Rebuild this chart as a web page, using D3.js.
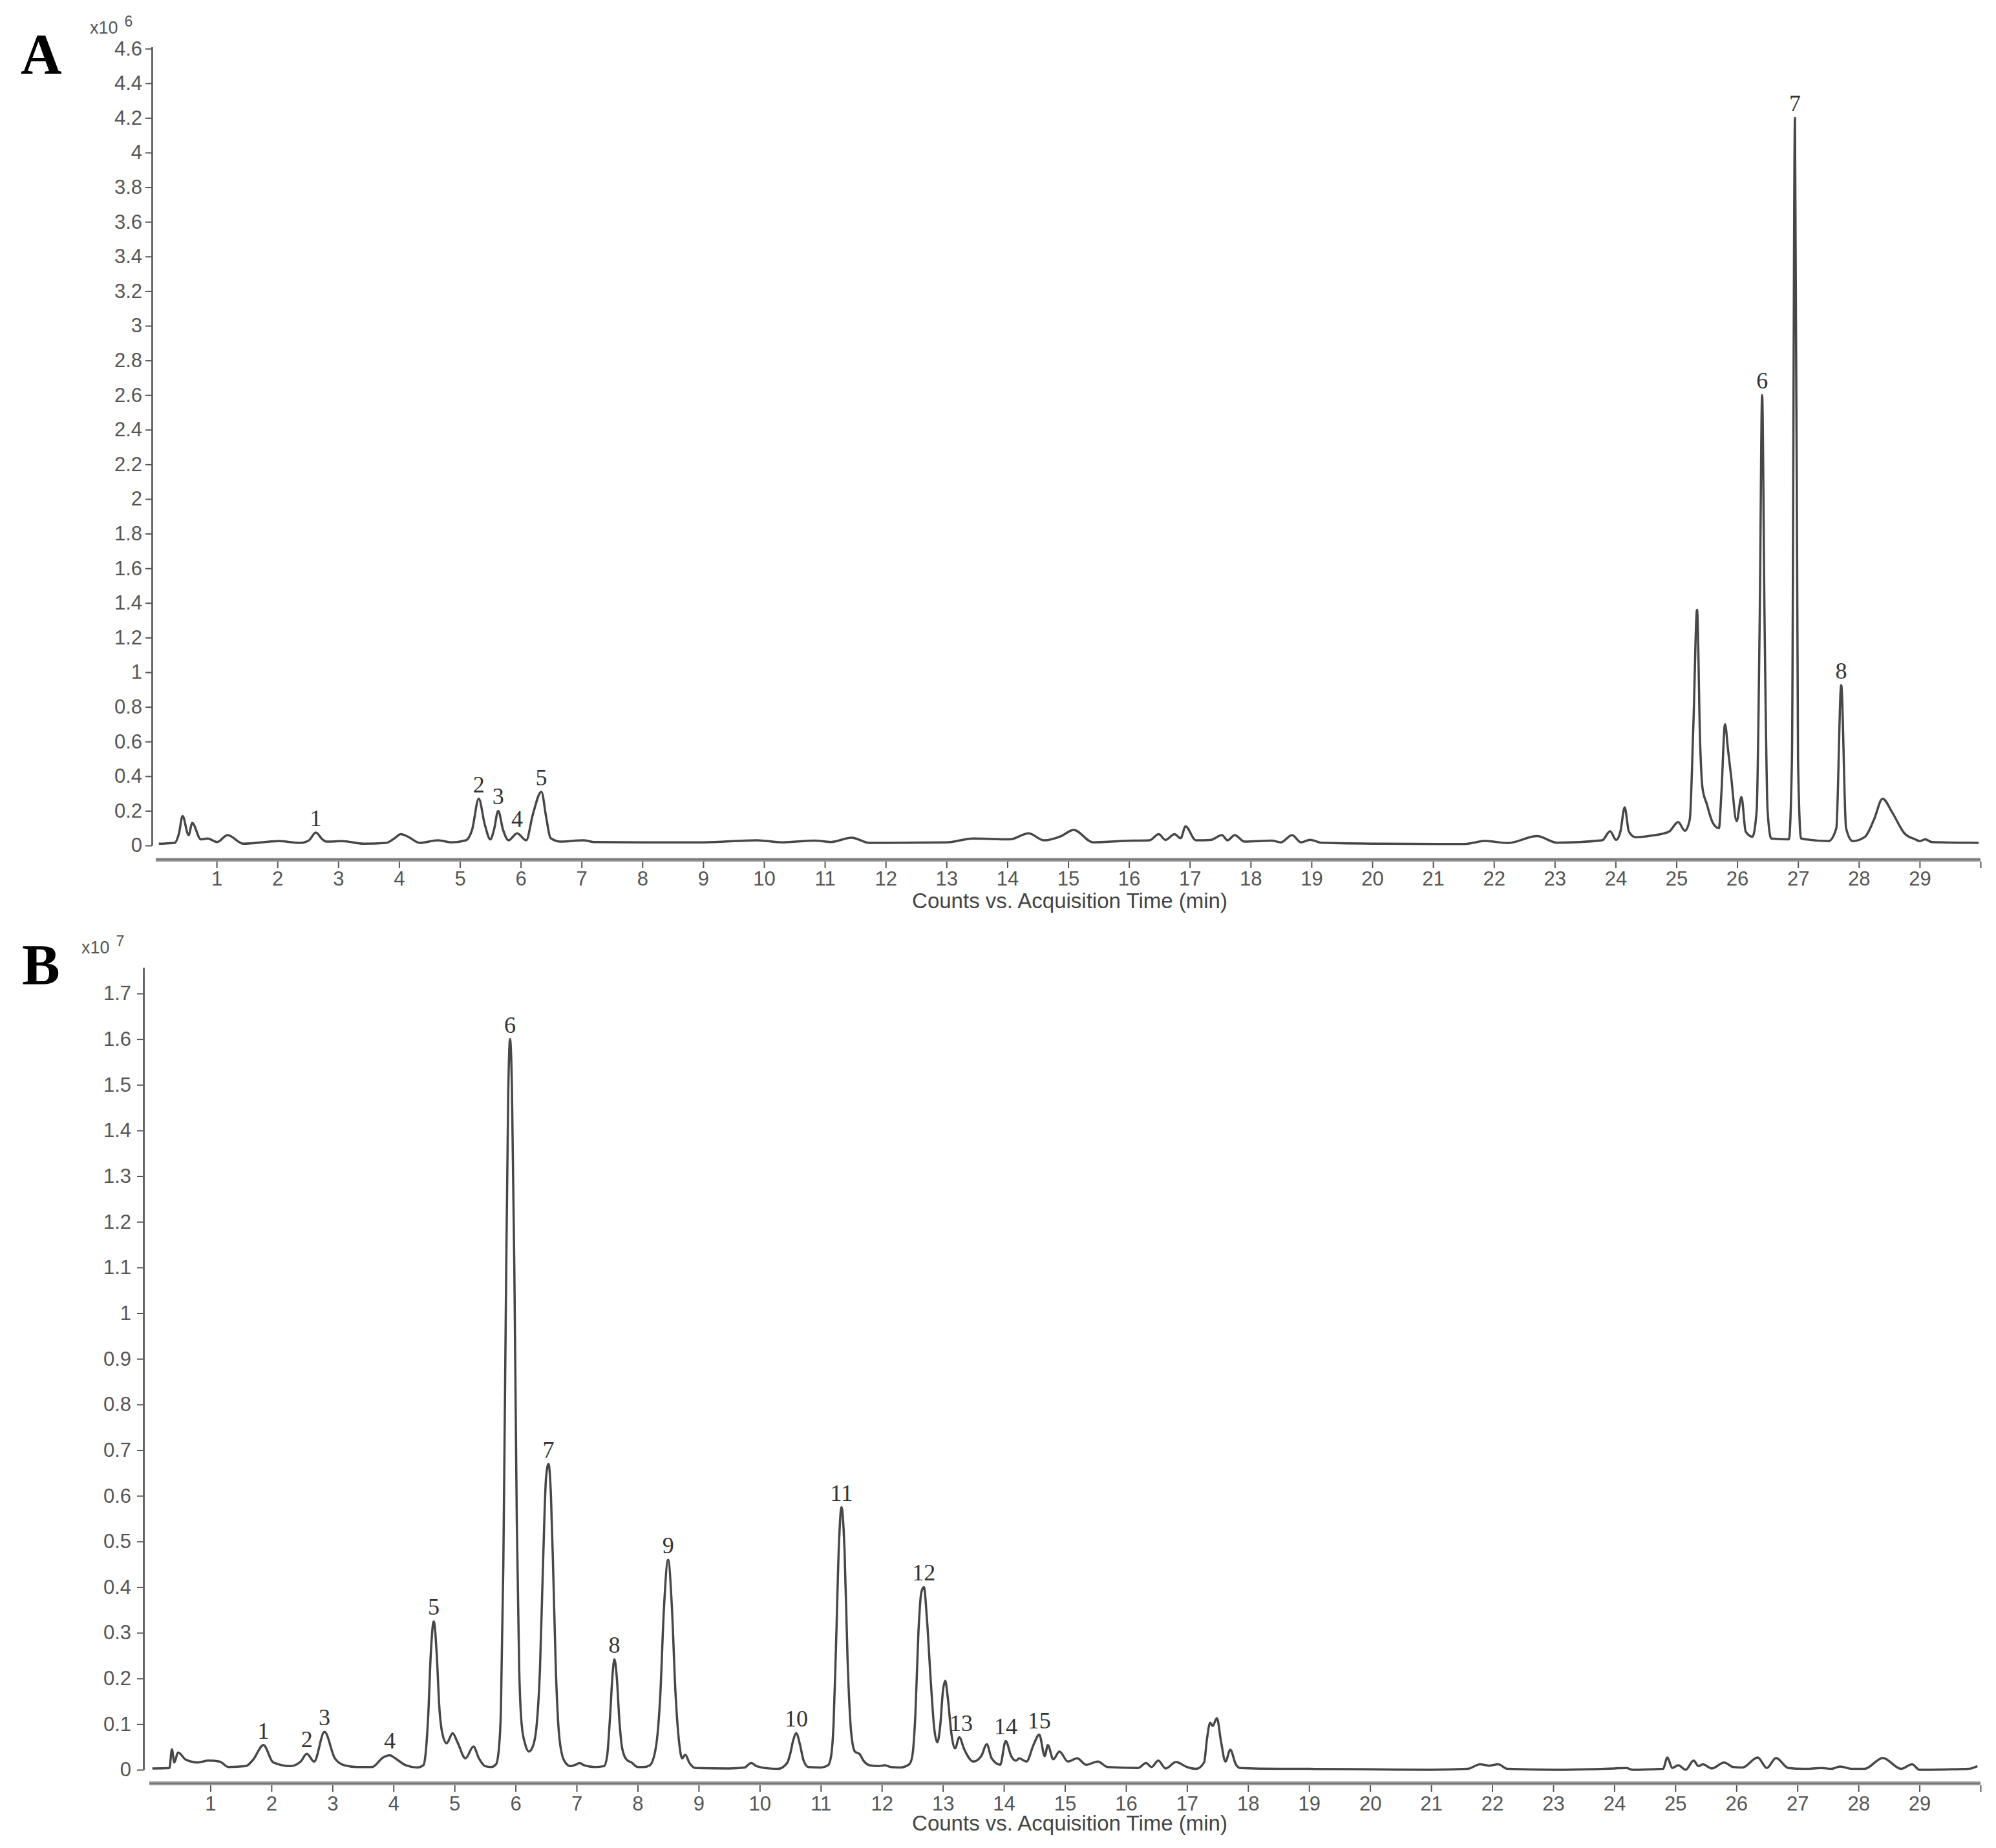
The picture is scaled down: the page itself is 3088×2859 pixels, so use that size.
<!DOCTYPE html>
<html>
<head>
<meta charset="utf-8">
<script src="https://cdn.jsdelivr.net/npm/d3@7/dist/d3.min.js"></script>
<style>
  body { margin: 0; background: #fff; }
  svg text { font-family: "Liberation Sans", Arial, sans-serif; }
  .tick text { fill: #555; font-size: 31px; }
  .tick line { stroke: #555; stroke-width: 2; }
  .axis-title { fill: #444; font-size: 33px; }
  .scale-note { fill: #555; }
  .peak-label { font-family: "Liberation Serif", "Times New Roman", serif; font-size: 36px; fill: #333; }
  .panel-letter { font-family: "Liberation Serif", "Times New Roman", serif; font-weight: bold; font-size: 88px; fill: #000; }
  .trace { fill: none; stroke: #474747; stroke-width: 3.5; stroke-linejoin: round; }
</style>
</head>
<body>
<svg id="fig" width="3088" height="2859"></svg>
<script>
// --- Chromatograms A (x10^6 counts) and B (x10^7 counts) vs. acquisition time (min) ---

// [time (min), counts]
const traceA = [
  [0.05,0.01],[0.31,0.015],[0.38,0.067],[0.44,0.17],[0.54,0.06],[0.6,0.13],[0.74,0.035],[0.85,0.04],
  [1.01,0.02],[1.18,0.06],[1.44,0.01],[2.02,0.025],[2.38,0.015],[2.52,0.03],[2.63,0.075],[2.74,0.035],
  [2.81,0.022],[3.06,0.025],[3.42,0.01],[3.79,0.015],[3.92,0.04],[4.03,0.065],[4.15,0.05],[4.34,0.015],
  [4.64,0.03],[4.86,0.018],[5.1,0.03],[5.2,0.09],[5.31,0.27],[5.41,0.12],[5.5,0.035],[5.56,0.09],
  [5.63,0.2],[5.71,0.09],[5.8,0.03],[5.94,0.07],[6.09,0.03],[6.2,0.18],[6.34,0.31],[6.42,0.16],
  [6.49,0.043],[6.66,0.022],[7.03,0.03],[7.2,0.02],[8.0,0.018],[9.0,0.018],[9.88,0.03],[10.3,0.018],
  [10.84,0.028],[11.1,0.02],[11.44,0.045],[11.73,0.015],[13.0,0.018],[13.44,0.04],[14.04,0.035],
  [14.35,0.07],[14.6,0.03],[14.89,0.055],[15.09,0.09],[15.41,0.018],[15.89,0.026],[16.34,0.03],
  [16.49,0.065],[16.6,0.032],[16.75,0.065],[16.85,0.042],[16.93,0.11],[17.1,0.03],[17.34,0.032],
  [17.53,0.06],[17.62,0.03],[17.74,0.06],[17.9,0.022],[18.35,0.028],[18.5,0.018],[18.68,0.06],
  [18.83,0.018],[18.98,0.033],[19.16,0.016],[20.17,0.01],[21.5,0.008],[21.86,0.026],[22.23,0.014],
  [22.71,0.054],[23.04,0.016],[23.78,0.03],[23.91,0.082],[24.01,0.032],[24.08,0.08],[24.15,0.22],
  [24.22,0.08],[24.33,0.048],[24.59,0.057],[24.88,0.08],[25.03,0.135],[25.14,0.085],[25.22,0.15],
  [25.28,0.7],[25.34,1.36],[25.39,0.6],[25.43,0.33],[25.5,0.24],[25.6,0.13],[25.7,0.1],[25.74,0.3],
  [25.8,0.7],[25.85,0.55],[25.9,0.4],[25.99,0.14],[26.07,0.28],[26.14,0.08],[26.25,0.05],[26.32,0.2],
  [26.37,1.3],[26.41,2.6],[26.45,1.3],[26.5,0.2],[26.56,0.04],[26.85,0.035],[26.9,0.5],[26.95,4.2],
  [27.0,0.5],[27.05,0.04],[27.5,0.025],[27.63,0.1],[27.71,0.925],[27.79,0.1],[27.9,0.025],[28.1,0.05],
  [28.25,0.15],[28.39,0.27],[28.55,0.19],[28.75,0.07],[28.93,0.035],[29.0,0.025],[29.09,0.035],
  [29.2,0.02],[29.97,0.015]
];

const traceB = [
  [0.05,0.003],[0.33,0.004],[0.37,0.045],[0.41,0.016],[0.47,0.038],[0.6,0.022],[0.79,0.016],[0.97,0.02],
  [1.15,0.018],[1.3,0.006],[1.58,0.008],[1.7,0.022],[1.87,0.054],[2.03,0.016],[2.31,0.008],[2.48,0.018],
  [2.58,0.035],[2.7,0.018],[2.87,0.083],[3.04,0.025],[3.19,0.01],[3.4,0.006],[3.65,0.006],[3.83,0.027],
  [3.94,0.032],[4.01,0.027],[4.2,0.01],[4.39,0.005],[4.49,0.01],[4.53,0.04],[4.57,0.12],[4.61,0.25],
  [4.66,0.325],[4.71,0.25],[4.75,0.14],[4.8,0.08],[4.87,0.058],[4.97,0.08],[5.05,0.06],[5.18,0.025],
  [5.31,0.051],[5.4,0.025],[5.5,0.008],[5.6,0.006],[5.68,0.012],[5.73,0.05],[5.76,0.13],[5.8,0.45],
  [5.84,1.0],[5.88,1.48],[5.91,1.6],[5.94,1.5],[5.98,1.1],[6.02,0.55],[6.06,0.22],[6.1,0.1],
  [6.16,0.055],[6.22,0.04],[6.28,0.05],[6.34,0.09],[6.4,0.22],[6.45,0.45],[6.5,0.64],[6.54,0.67],
  [6.58,0.6],[6.62,0.42],[6.66,0.22],[6.7,0.1],[6.75,0.04],[6.82,0.015],[6.9,0.008],[7.0,0.012],
  [7.05,0.015],[7.12,0.01],[7.3,0.006],[7.45,0.008],[7.5,0.03],[7.55,0.12],[7.59,0.21],[7.62,0.242],
  [7.66,0.2],[7.7,0.11],[7.75,0.045],[7.82,0.022],[7.9,0.016],[8.0,0.006],[8.1,0.006],[8.2,0.01],
  [8.3,0.05],[8.37,0.16],[8.43,0.35],[8.5,0.46],[8.56,0.36],[8.62,0.17],[8.68,0.06],[8.73,0.025],
  [8.78,0.033],[8.85,0.015],[8.95,0.004],[9.5,0.003],[9.75,0.005],[9.86,0.015],[9.95,0.008],
  [10.15,0.003],[10.3,0.002],[10.45,0.015],[10.5,0.035],[10.55,0.065],[10.6,0.08],[10.66,0.055],
  [10.72,0.02],[10.8,0.006],[11.0,0.005],[11.12,0.01],[11.17,0.03],[11.21,0.1],[11.25,0.27],
  [11.3,0.5],[11.34,0.575],[11.39,0.48],[11.44,0.24],[11.5,0.08],[11.56,0.04],[11.64,0.034],
  [11.7,0.02],[11.8,0.01],[11.95,0.008],[12.05,0.01],[12.15,0.006],[12.3,0.005],[12.45,0.012],
  [12.5,0.03],[12.55,0.12],[12.6,0.3],[12.65,0.39],[12.69,0.4],[12.74,0.33],[12.8,0.2],[12.86,0.09],
  [12.91,0.06],[12.96,0.1],[13.0,0.17],[13.04,0.195],[13.08,0.16],[13.14,0.08],[13.2,0.047],
  [13.27,0.071],[13.35,0.045],[13.5,0.018],[13.63,0.03],[13.72,0.056],[13.8,0.025],[13.94,0.011],
  [14.03,0.063],[14.12,0.03],[14.2,0.02],[14.25,0.025],[14.37,0.018],[14.49,0.056],[14.58,0.077],
  [14.67,0.03],[14.72,0.054],[14.81,0.023],[14.91,0.04],[15.05,0.018],[15.2,0.025],[15.35,0.011],
  [15.54,0.018],[15.7,0.006],[16.2,0.004],[16.33,0.015],[16.42,0.006],[16.53,0.02],[16.65,0.003],
  [16.82,0.017],[17.0,0.006],[17.15,0.002],[17.28,0.016],[17.33,0.07],[17.38,0.103],[17.42,0.096],
  [17.49,0.113],[17.56,0.06],[17.63,0.018],[17.71,0.044],[17.8,0.012],[17.87,0.004],[18.5,0.002],
  [19.0,0.002],[20.0,0.001],[21.0,0.0],[21.6,0.002],[21.8,0.012],[21.95,0.009],[22.1,0.012],
  [22.25,0.002],[23.0,0.0],[24.0,0.003],[24.2,0.004],[24.3,0.0],[24.8,0.002],[24.87,0.027],
  [24.95,0.004],[25.05,0.01],[25.17,0.0],[25.3,0.02],[25.38,0.008],[25.45,0.012],[25.6,0.003],
  [25.8,0.016],[25.95,0.006],[26.1,0.005],[26.35,0.027],[26.5,0.004],[26.65,0.026],[26.85,0.004],
  [27.1,0.002],[27.4,0.004],[27.55,0.002],[27.7,0.007],[27.9,0.002],[28.1,0.002],[28.4,0.026],
  [28.7,0.002],[28.88,0.012],[29.0,0.0],[29.5,0.001],[29.8,0.002],[29.95,0.008]
];

// peak numbers and the retention time they sit over
const peaksA = [
  ['1',2.63],['2',5.31],['3',5.63],['4',5.94],['5',6.34],['6',26.41],['7',26.95],['8',27.71]
];
const peaksB = [
  ['1',1.87],['2',2.58],['3',2.87],['4',3.94],['5',4.66],['6',5.91],['7',6.54],['8',7.62],
  ['9',8.5],['10',10.6],['11',11.34],['12',12.69],['13',13.3],['14',14.03],['15',14.58]
];

const yTicksA = d3.range(0, 24).map(i => +(i * 0.2).toFixed(1));   // 0 .. 4.6
const yTicksB = d3.range(0, 18).map(i => +(i * 0.1).toFixed(1));   // 0 .. 1.7
const xTicks = d3.range(1, 31);                                     // 1 .. 29, plus end mark at 30
const xTitle = 'Counts vs. Acquisition Time (min)';

const svg = d3.select('#fig');

function drawPanel(cfg) {
  const g = svg.append('g');

  const x = d3.scaleLinear().domain([0, 30]).range([cfg.x0, cfg.x1]);
  const y = d3.scaleLinear().domain([0, cfg.yMax]).range([cfg.yZero, cfg.yZero - cfg.yMax * cfg.pxPerUnit]);

  // y axis
  const yAxis = g.append('g')
    .attr('transform', `translate(${cfg.yAxisX},0)`)
    .call(d3.axisLeft(y).tickValues(cfg.yTicks).tickSize(10).tickSizeOuter(0)
      .tickPadding(cfg.yPad).tickFormat(d => String(d)));
  yAxis.select('.domain').attr('stroke', '#666').attr('stroke-width', 3);

  // x axis: thick grey bar with ticks hanging below
  g.append('rect')
    .attr('x', x(0)).attr('y', cfg.barY - 3)
    .attr('width', x(30) - x(0)).attr('height', 6)
    .attr('fill', '#9a9a9a');
  g.append('line')
    .attr('x1', x(0)).attr('x2', x(30))
    .attr('y1', cfg.barY).attr('y2', cfg.barY)
    .attr('stroke', '#777').attr('stroke-width', 2);

  const xAxis = g.append('g')
    .attr('transform', `translate(0,${cfg.barY + 3})`)
    .call(d3.axisBottom(x).tickValues(xTicks).tickSize(10).tickSizeOuter(0)
      .tickPadding(cfg.xPad).tickFormat(d => d < 30 ? String(d) : ''));
  xAxis.select('.domain').remove();

  g.append('text')
    .attr('class', 'axis-title')
    .attr('x', 1655).attr('y', cfg.titleY)
    .attr('text-anchor', 'middle')
    .text(xTitle);

  // trace
  const line = d3.line()
    .x(d => x(d[0]))
    .y(d => y(d[1]))
    .curve(d3.curveMonotoneX);

  g.append('path')
    .datum(cfg.trace)
    .attr('class', 'trace')
    .attr('d', line);

  // peak numbers just above each apex
  cfg.peaks.forEach(([label, t]) => {
    const apex = d3.max(cfg.trace.filter(d => Math.abs(d[0] - t) <= 0.08), d => d[1]);
    g.append('text')
      .attr('class', 'peak-label')
      .attr('x', x(t)).attr('y', y(apex) - 10)
      .attr('text-anchor', 'middle')
      .text(label);
  });

  // exponent note and panel letter
  const note = g.append('text').attr('class', 'scale-note')
    .attr('x', cfg.noteX).attr('y', cfg.noteY);
  note.append('tspan').attr('font-size', 27).text('x10');
  note.append('tspan').attr('font-size', 23).attr('dx', 10).attr('dy', -11).text(cfg.exponent);

  g.append('text')
    .attr('class', 'panel-letter')
    .attr('x', cfg.letterX).attr('y', cfg.letterY)
    .text(cfg.letter);
}

drawPanel({
  letter: 'A', letterX: 32, letterY: 113,
  exponent: '6', noteX: 139, noteY: 52,
  trace: traceA, peaks: peaksA,
  x0: 241, x1: 3064,
  yMax: 4.61, yZero: 1308, pxPerUnit: 268,
  yTicks: yTicksA, yAxisX: 235, yPad: 5,
  barY: 1330, xPad: 5, titleY: 1405
});

drawPanel({
  letter: 'B', letterX: 34, letterY: 1522,
  exponent: '7', noteX: 126, noteY: 1475,
  trace: traceB, peaks: peaksB,
  x0: 231, x1: 3064,
  yMax: 1.757, yZero: 2738, pxPerUnit: 706.5,
  yTicks: yTicksB, yAxisX: 222, yPad: 9,
  barY: 2759, xPad: 7, titleY: 2832
});
</script>
</body>
</html>
